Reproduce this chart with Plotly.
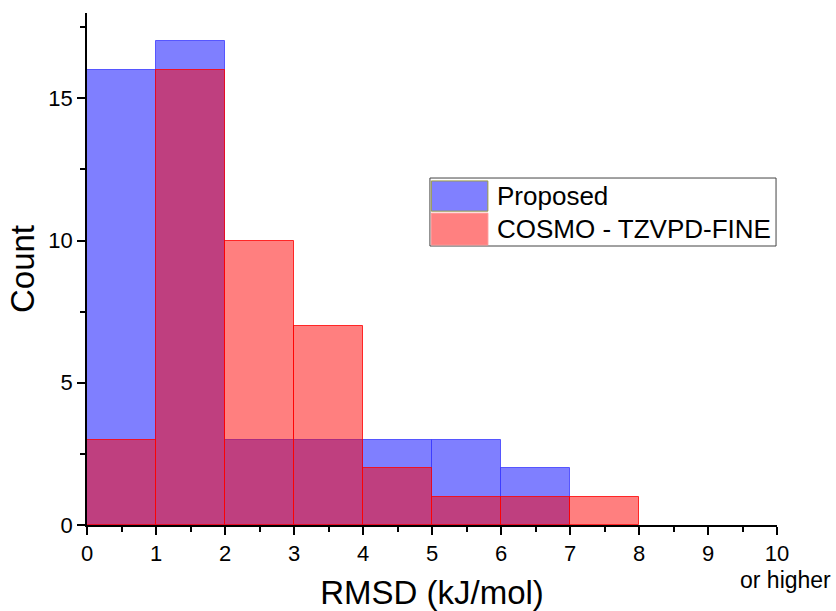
import plotly.graph_objects as go

bin_centers = [0.5, 1.5, 2.5, 3.5, 4.5, 5.5, 6.5, 7.5, 8.5, 9.5]
proposed = [16, 17, 3, 3, 3, 3, 2, 0, 0, 0]
cosmo = [3, 16, 10, 7, 2, 1, 1, 1, 0, 0]
x_ticks = [0, 1, 2, 3, 4, 5, 6, 7, 8, 9, 10]
y_ticks = [0, 5, 10, 15]

FONT = "Liberation Sans, Arial, sans-serif"

def edge_widths(vals):
    return [1 if v > 0 else 0 for v in vals]

fig = go.Figure()
fig.add_trace(go.Bar(x=bin_centers, y=proposed, width=1, name="Proposed",
                     marker=dict(color="rgba(0,0,255,0.5)",
                                 line=dict(color="rgba(60,60,255,0.8)", width=edge_widths(proposed))),
                     showlegend=False))
fig.add_trace(go.Bar(x=bin_centers, y=cosmo, width=1, name="COSMO - TZVPD-FINE",
                     marker=dict(color="rgba(255,0,0,0.5)",
                                 line=dict(color="rgba(255,0,0,0.8)", width=edge_widths(cosmo))),
                     showlegend=False))

fig.update_layout(
    width=836, height=611,
    margin=dict(l=87, r=59, t=13, b=86),
    plot_bgcolor="white", paper_bgcolor="white",
    barmode="overlay", bargap=0,
    font=dict(family=FONT, color="black"),
    xaxis=dict(range=[0, 10], tickvals=x_ticks, ticktext=[str(v) for v in x_ticks],
               automargin=False,
               showgrid=False, zeroline=False, showline=True, linecolor="black", linewidth=1.5,
               ticks="outside", ticklen=8, tickwidth=1.5, tickcolor="black",
               tickfont=dict(size=22, family=FONT),
               minor=dict(dtick=0.5, ticks="outside", ticklen=5, tickwidth=1.5, tickcolor="black"),
               title=dict(text="RMSD (kJ/mol)", font=dict(size=33, family=FONT), standoff=18)),
    yaxis=dict(range=[0, 18], tickvals=y_ticks, automargin=False,
               showgrid=False, zeroline=False, showline=True, linecolor="black", linewidth=1.5,
               ticks="outside", ticklen=8, tickwidth=1.5, tickcolor="black",
               tickfont=dict(size=22, family=FONT),
               minor=dict(dtick=2.5, ticks="outside", ticklen=5, tickwidth=1.5, tickcolor="black"),
               title=dict(text="Count", font=dict(size=33, family=FONT), standoff=4)),
)

# "or higher" under the last tick label
fig.add_annotation(x=10, y=0, xref="x", yref="y", text="or higher", showarrow=False,
                   xanchor="center", yanchor="top", xshift=8, yshift=-40,
                   font=dict(size=23, family=FONT))

# custom legend
fig.add_shape(type="rect", xref="paper", yref="paper", x0=0.497, x1=0.9986, y0=0.5449, y1=0.6777,
              line=dict(color="#444", width=1), fillcolor="rgba(0,0,0,0)")
fig.add_shape(type="rect", xref="paper", yref="paper", x0=0.499, x1=0.581, y0=0.613, y1=0.672,
              line=dict(color="#9a9a40", width=1), fillcolor="#8080FF")
fig.add_shape(type="rect", xref="paper", yref="paper", x0=0.499, x1=0.581, y0=0.547, y1=0.609,
              line=dict(color="#ff9090", width=1), fillcolor="#FF8080")
fig.add_annotation(xref="paper", yref="paper", x=0.591, y=0.643, text="Proposed", showarrow=False,
                   xanchor="left", yanchor="middle", font=dict(size=26, family=FONT))
fig.add_annotation(xref="paper", yref="paper", x=0.591, y=0.578, text="COSMO - TZVPD-FINE",
                   showarrow=False, xanchor="left", yanchor="middle", font=dict(size=26, family=FONT))

fig.write_html("out.html")
